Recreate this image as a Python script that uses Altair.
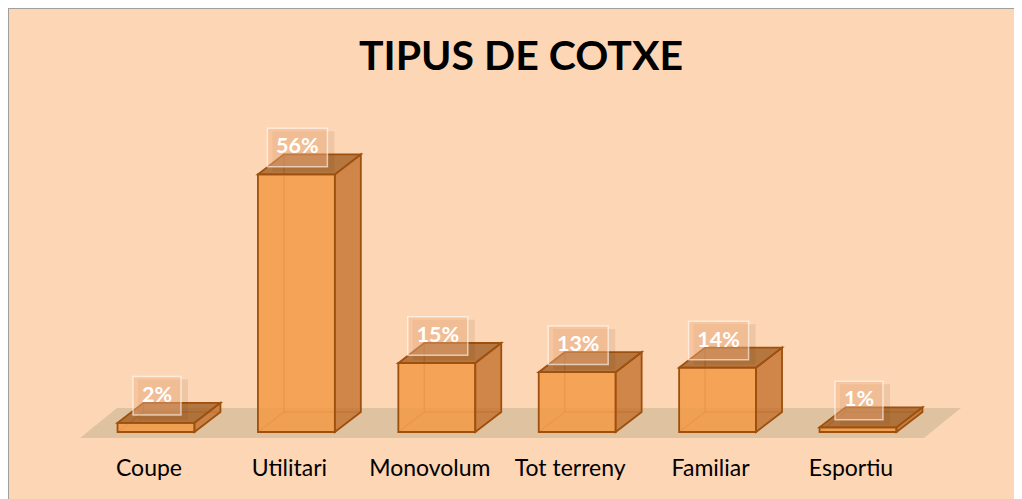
import altair as alt
import pandas as pd

# ---- data ----
categories = ["Coupe", "Utilitari", "Monovolum", "Tot terreny", "Familiar", "Esportiu"]
values = [2, 56, 15, 13, 14, 1]
value_labels = ["2%", "56%", "15%", "13%", "14%", "1%"]
title_text = "TIPUS DE COTXE"

# ---- geometry / style constants (in scale units) ----
HALF_W = 0.274        # half bar width (category slots)
DX = 0.185            # depth offset x (slots)
DY = 4.35             # depth offset y (percent units)
FLOOR_L, FLOOR_R = -0.541, 5.47
FLOOR_Y, FLOOR_DX, FLOOR_DY = -1.3, 0.2635, 6.52
PX_X = 140.4          # px per slot
PX_Y = 4.6            # px per percent
W, H = 1006, 491

EDGE = "#9E500E"
BG = "#FDD6B5"
FONT = "Lato"

xs = alt.Scale(domain=[-148 / PX_X, (W - 148) / PX_X], nice=False, zero=False)
ys = alt.Scale(domain=[-(H - 424) / PX_Y, 424 / PX_Y], nice=False, zero=False)

def X(f="x"):
    return alt.X(f"{f}:Q", scale=xs, axis=None)

def Y(f="y"):
    return alt.Y(f"{f}:Q", scale=ys, axis=None)

# ---- tables built from the arrays ----
front_rows, side_rows, top_rows, hidden_rows = [], [], [], []
box_rows, cat_rows = [], []
for i, (c, v, lab) in enumerate(zip(categories, values, value_labels)):
    xl, xr = i - HALF_W, i + HALF_W
    front_rows.append(dict(cat=c, x=xl, x2=xr, y=0, y2=v))
    side_rows += [dict(cat=c, x=xr, y=0, y2=v), dict(cat=c, x=xr + DX, y=DY, y2=v + DY)]
    top_rows += [
        dict(cat=c, x=xl, y=v, y2=v),
        dict(cat=c, x=xl + DX, y=v, y2=v + DY),
        dict(cat=c, x=xr, y=v, y2=v + DY),
        dict(cat=c, x=xr + DX, y=v + DY, y2=v + DY),
    ]
    hidden_rows += [
        dict(cat=c, x=xl, y=0, x2=xl + DX, y2=DY),
        dict(cat=c, x=xl + DX, y=DY, x2=xr + DX, y2=DY),
        dict(cat=c, x=xl + DX, y=DY, x2=xl + DX, y2=v + DY),
    ]
    hw = (24 + 12 * len(lab)) / 2 / PX_X
    cy = v + 27 / PX_Y
    hh = 19.25 / PX_Y
    cx = i + 1 / PX_X
    box_rows.append(dict(cat=c, label=lab, x=cx - hw, x2=cx + hw, y=cy - hh, y2=cy + hh,
                         cx=cx, cy=cy,
                         sx=cx - hw + 5 / PX_X, sx2=cx + hw + 7 / PX_X,
                         sy=cy - hh - 5 / PX_Y, sy2=cy + hh - 3 / PX_Y))
    cat_rows.append(dict(cat=c, x=i - 7 / PX_X, y=-37 / PX_Y))

floor_df = pd.DataFrame([
    dict(x=FLOOR_L, y=FLOOR_Y, y2=FLOOR_Y),
    dict(x=FLOOR_L + FLOOR_DX, y=FLOOR_Y, y2=FLOOR_Y + FLOOR_DY),
    dict(x=FLOOR_R, y=FLOOR_Y, y2=FLOOR_Y + FLOOR_DY),
    dict(x=FLOOR_R + FLOOR_DX, y=FLOOR_Y + FLOOR_DY, y2=FLOOR_Y + FLOOR_DY),
])

front_df = pd.DataFrame(front_rows)
side_df = pd.DataFrame(side_rows)
top_df = pd.DataFrame(top_rows)
hidden_df = pd.DataFrame(hidden_rows)
box_df = pd.DataFrame(box_rows)
cat_df = pd.DataFrame(cat_rows)

floor = alt.Chart(floor_df).mark_area(color="#DFC3A1", opacity=1).encode(
    x=X(), y=Y(), y2="y2:Q")

hidden = alt.Chart(hidden_df).mark_rule(color=EDGE, strokeWidth=1.5, opacity=0.55).encode(
    x=X(), y=Y(), x2="x2:Q", y2="y2:Q")

front = alt.Chart(front_df).mark_rect(fill="#F39A45", fillOpacity=0.85, stroke=EDGE,
                                      strokeWidth=1.8).encode(
    x=X(), x2="x2:Q", y=Y(), y2="y2:Q")

side = alt.Chart(side_df).mark_area(fill="#C4702E", fillOpacity=0.8, stroke=EDGE,
                                    strokeWidth=1.8, interpolate="linear").encode(
    x=X(), y=Y(), y2="y2:Q", detail="cat:N")

top = alt.Chart(top_df).mark_area(fill="#A35E22", fillOpacity=0.8, stroke=EDGE,
                                  strokeWidth=1.8, interpolate="linear").encode(
    x=X(), y=Y(), y2="y2:Q", detail="cat:N")

shadow = alt.Chart(box_df).mark_rect(fill="#7A3A08", opacity=0.10).encode(
    x=X("sx"), x2="sx2:Q", y=Y("sy"), y2="sy2:Q")

box = alt.Chart(box_df).mark_rect(fill="#F2B282", fillOpacity=0.45, stroke="white",
                                  strokeOpacity=0.6, strokeWidth=1.5).encode(
    x=X(), x2="x2:Q", y=Y(), y2="y2:Q")

labels = alt.Chart(box_df).mark_text(font=FONT, fontWeight="bold", fontSize=21.5,
                                     color="white", baseline="middle", align="center").encode(
    x=X("cx"), y=Y("cy"), text="label:N")

cat_text = alt.Chart(cat_df).mark_text(font=FONT, fontSize=23, color="black",
                                       baseline="middle", align="center").encode(
    x=X(), y=Y(), text="cat:N")

title = alt.Chart(pd.DataFrame({"t": [title_text]})).mark_text(
    font=FONT, fontWeight="bold", fontSize=41, color="black",
    baseline="middle", align="center").encode(
    x=alt.value(513), y=alt.value(50), text="t:N")

# frame: top and left edges of the chart area
frame_top = alt.Chart(pd.DataFrame({"k": [0]})).mark_rule(color="#A0A0A0", strokeWidth=2).encode(
    x=alt.value(0), x2=alt.value(W), y=alt.value(0))
frame_left = alt.Chart(pd.DataFrame({"k": [0]})).mark_rule(color="#A0A0A0", strokeWidth=2).encode(
    x=alt.value(0), y=alt.value(0), y2=alt.value(H))

chart = alt.layer(floor, hidden, front, side, top, shadow, box, labels, cat_text, title,
                  frame_top, frame_left).properties(
    width=W, height=H,
    autosize=alt.AutoSizeParams(type="none"),
    padding=0,
    background=BG,
).configure_view(stroke=None)

chart.save("out.html", embed_options={"renderer": "svg", "actions": False})
